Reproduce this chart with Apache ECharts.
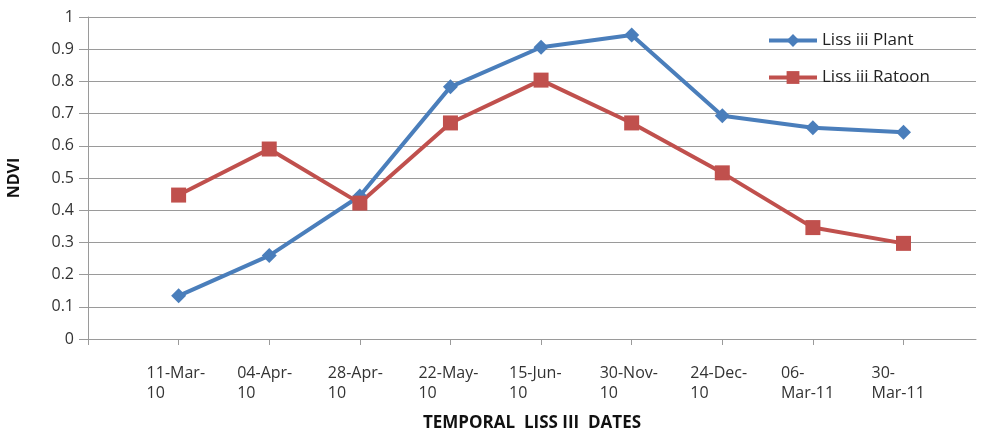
<!DOCTYPE html>
<html>
<head>
<meta charset="utf-8">
<script src="https://cdn.jsdelivr.net/npm/echarts@6/dist/echarts.min.js"></script>
<style>
    html, body { margin: 0; padding: 0; background: #fff; }
    #chart { width: 984px; height: 435px; }
</style>
</head>
<body>
<div id="chart"></div>
<script>
    'use strict'

    var dates = ['11-Mar-\n10', '04-Apr-\n10', '28-Apr-\n10', '22-May-\n10', '15-Jun-\n10',
        '30-Nov-\n10', '24-Dec-\n10', '06-\nMar-11', '30-\nMar-11'];
    var plant = [0.134, 0.259, 0.444, 0.783, 0.906, 0.944, 0.693, 0.656, 0.642];
    var ratoon = [0.447, 0.590, 0.422, 0.671, 0.804, 0.671, 0.516, 0.346, 0.297];

    var font = '"Open Sans", "Liberation Sans", sans-serif';
    var gridColor = '#9a9a9a';

    // points sit on positions 1..9 of the x axis, position 0 is the axis start
    function toPoints(arr) {
        return arr.map(function (v, i) { return [i + 1, v]; });
    }
    var tickPos = dates.map(function (d, i) { return i + 1; });

    var chart = echarts.init(document.getElementById('chart'));
    var option = {
        animation: false,
        grid: {
            top: 17,
            right: 8,
            bottom: 96,
            left: 88,
            outerBoundsMode: 'none',
            containLabel: false
        },
        legend: {
            orient: 'vertical',
            left: 762,
            top: 27,
            itemGap: 20,
            itemWidth: 48,
            itemHeight: 16,
            lineStyle: { width: 4 },
            textStyle: {
                fontFamily: font,
                fontSize: 17,
                color: '#222'
            },
            data: ['Liss iii Plant', 'Liss iii Ratoon']
        },
        xAxis: {
            type: 'value',
            min: 0,
            max: 9.8,
            interval: 1,
            name: 'TEMPORAL  LISS III  DATES',
            nameLocation: 'middle',
            nameGap: 76,
            nameTextStyle: {
                fontFamily: font,
                fontSize: 17,
                fontWeight: 'bold',
                color: '#111'
            },
            splitLine: { show: false },
            axisLine: {
                lineStyle: { color: gridColor, width: 1 }
            },
            axisTick: {
                length: 6,
                customValues: [0].concat(tickPos),
                lineStyle: { color: gridColor }
            },
            axisLabel: {
                customValues: tickPos,
                margin: 24,
                formatter: function (v) {
                    var lines = dates[Math.round(v) - 1].split('\n');
                    return lines.map(function (s) { return '{a|' + s + '}'; }).join('\n');
                },
                rich: {
                    a: {
                        width: 64,
                        align: 'left',
                        lineHeight: 20,
                        fontFamily: font,
                        fontSize: 16,
                        color: '#333'
                    }
                }
            }
        },
        yAxis: {
            type: 'value',
            min: 0,
            max: 1,
            interval: 0.1,
            name: 'NDVI',
            nameLocation: 'middle',
            nameGap: 66,
            nameTextStyle: {
                fontFamily: font,
                fontSize: 16,
                fontWeight: 'bold',
                color: '#111'
            },
            splitLine: {
                lineStyle: { color: gridColor, width: 1 }
            },
            axisLine: {
                show: true,
                lineStyle: { color: gridColor, width: 1 }
            },
            axisTick: {
                show: true,
                length: 9,
                lineStyle: { color: gridColor }
            },
            axisLabel: {
                margin: 14,
                fontFamily: font,
                fontSize: 16,
                color: '#333',
                formatter: function (v) {
                    return String(Math.round(v * 10) / 10);
                }
            }
        },
        series: [{
            name: 'Liss iii Plant',
            type: 'line',
            data: toPoints(plant),
            symbol: 'diamond',
            symbolSize: 15,
            lineStyle: { width: 4 },
            color: '#4a7ebb'
        }, {
            name: 'Liss iii Ratoon',
            type: 'line',
            data: toPoints(ratoon),
            symbol: 'rect',
            symbolSize: 15,
            lineStyle: { width: 4 },
            color: '#c0504d'
        }]
    };
    chart.setOption(option);
</script>
</body>
</html>
